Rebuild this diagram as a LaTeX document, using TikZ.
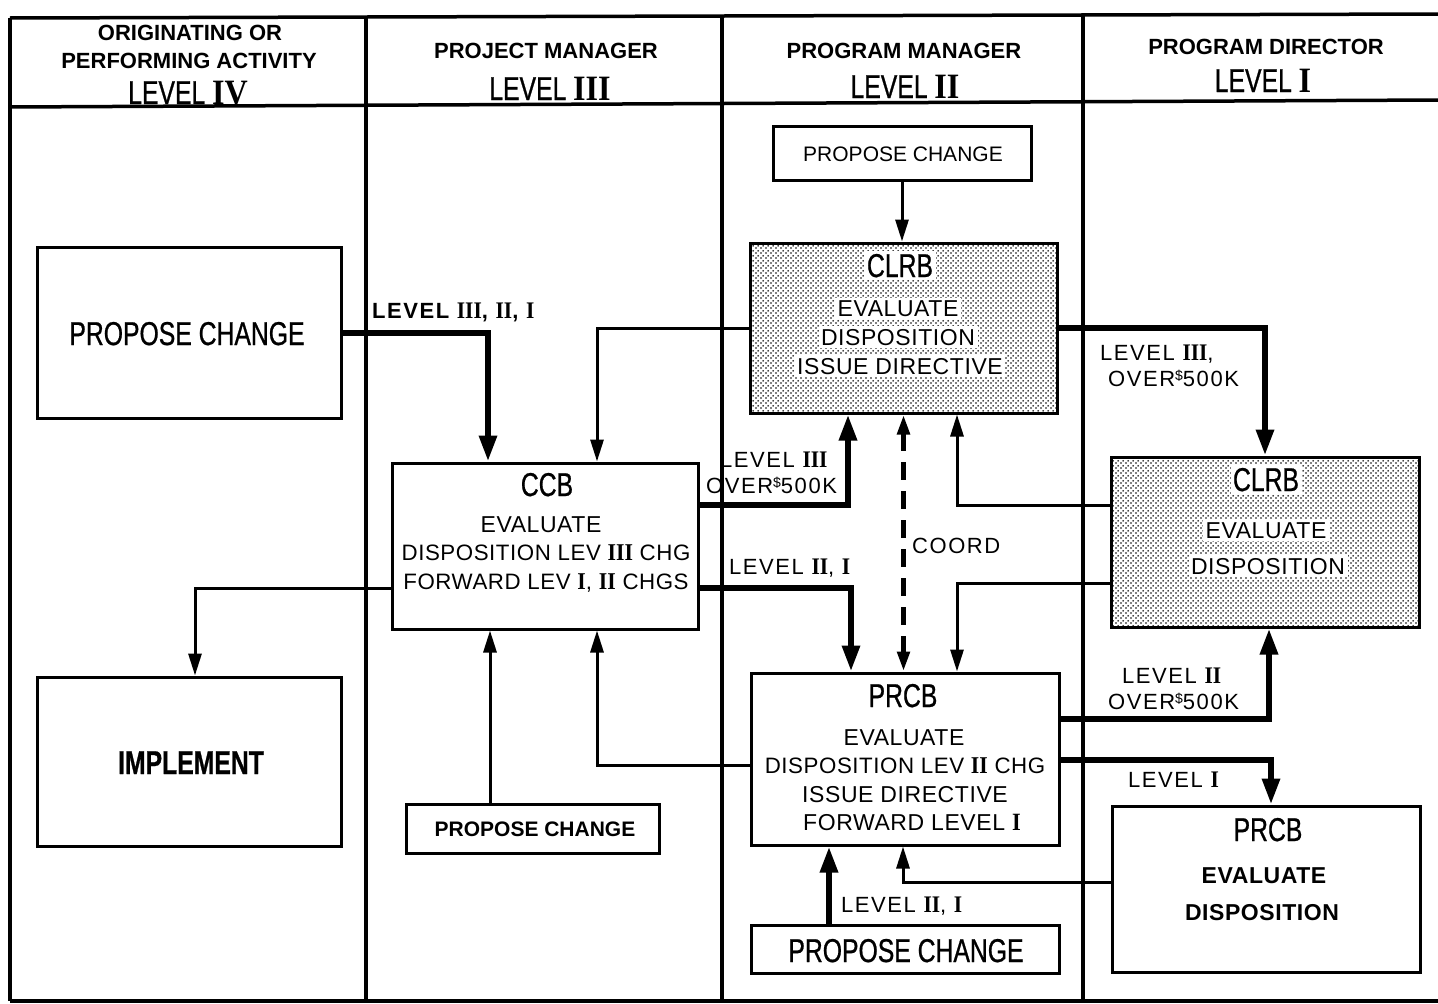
\documentclass[tikz,border=0pt]{standalone}
\usepackage{fontspec}
\setmainfont{Liberation Sans}
\newfontfamily\cfont[FakeStretch=0.75,FakeBold=0.7]{Liberation Sans}
\newfontfamily\rnfont[FakeStretch=0.9]{Liberation Serif}
\newfontfamily\lsfont[LetterSpace=7]{Liberation Sans}
\newfontfamily\bsfont[LetterSpace=2.5]{Liberation Sans}
\usetikzlibrary{arrows.meta,patterns.meta}

\tikzdeclarepattern{
  name=halftone,
  type=uncolored,
  bottom left={(0pt,0pt)},
  top right={(5pt,5pt)},
  tile size={(5pt,5pt)},
  code={
    \pgfpathcircle{\pgfqpoint{1.25pt}{1.25pt}}{1.05pt}
    \pgfpathcircle{\pgfqpoint{3.75pt}{3.75pt}}{1.05pt}
    \pgfusepath{fill}
  }
}

\newcommand\rom[1]{{\rnfont\bfseries\scalebox{1.08}{#1}}}
\newcommand\hfnt{\fontsize{22}{24}\selectfont\bfseries}
\newcommand\bfnt{\cfont\fontsize{33}{36}\selectfont}
\newcommand\tfnt{\bsfont\fontsize{23}{25}\selectfont}
\newcommand\sfnt{\bsfont\fontsize{22.3}{25}\selectfont}
\newcommand\lfnt{\lsfont\fontsize{22}{24}\selectfont}
\newcommand\dol{\raisebox{6pt}{\fontsize{14}{14}\selectfont\$}}

\begin{document}
\begin{tikzpicture}[x=1pt,y=-1pt,
  box/.style={draw, line width=3pt, rectangle, inner sep=0pt},
  shaded/.style={box, pattern=halftone, pattern color=black},
  txt/.style={anchor=base, inner sep=0pt},
  wtxt/.style={anchor=base, inner sep=2.5pt, fill=white},
  lbl/.style={anchor=base west, inner sep=0pt},
  frame/.style={line width=3.5pt},
  thk/.style={line width=6pt, -{Triangle[length=26pt,width=17pt]}},
  thn/.style={line width=3pt, -{Triangle[length=22pt,width=13pt]}},
  coordline/.style={line width=5pt, dash pattern=on 18pt off 11pt,
    {Triangle[length=20pt,width=12pt]}-{Triangle[length=20pt,width=12pt]}}
]
\useasboundingbox (0,0) rectangle (1438,1004);
\fill[white] (0,0) rectangle (1438,1004);

% frame
\draw[frame] (10,18) -- (1438,14);
\draw[frame] (10,107) -- (1438,100);
\draw[frame] (10,1001) -- (1438,1001);
\draw[frame] (10,18) -- (10,1001);
\draw[frame] (366,17) -- (366,1001);
\draw[frame] (722,16) -- (722,1001);
\draw[frame] (1083,15) -- (1083,1001);

% headers
\node[txt] (h1) at (190,40) {\hfnt ORIGINATING OR};
\node[txt] (h2) at (189,68) {\hfnt PERFORMING ACTIVITY};
\node[txt] (h3) at (188,104) {\bfnt LEVEL \rom{IV}};
\node[txt] (h4) at (546,58) {\hfnt PROJECT MANAGER};
\node[txt] (h5) at (550,100) {\bfnt LEVEL \rom{III}};
\node[txt] (h6) at (904,58) {\hfnt PROGRAM MANAGER};
\node[txt] (h7) at (905,98) {\bfnt LEVEL \rom{II}};
\node[txt] (h8) at (1266,54) {\hfnt PROGRAM DIRECTOR};
\node[txt] (h9) at (1263,92) {\bfnt LEVEL \rom{I}};

% boxes
\node[box, minimum width=304pt, minimum height=171pt] (pc4) at (189,332.5) {};
\node[box, minimum width=304pt, minimum height=169pt] (impl) at (189,761.5) {};
\node[box, minimum width=306pt, minimum height=166pt] (ccb) at (545,546) {};
\node[box, minimum width=253pt, minimum height=49pt] (pc3) at (532.5,828.5) {};
\node[box, minimum width=258pt, minimum height=54pt] (pc2a) at (902,153) {};
\node[shaded, minimum width=307pt, minimum height=170pt] (clrb2) at (903.5,328) {};
\node[box, minimum width=308pt, minimum height=172pt] (prcb2) at (905,759) {};
\node[box, minimum width=308pt, minimum height=48pt] (pc2b) at (905,949) {};
\node[shaded, minimum width=308pt, minimum height=170pt] (clrb1) at (1265,542) {};
\node[box, minimum width=308pt, minimum height=166pt] (prcb1) at (1266,889) {};

% box texts
\node[txt] (t1) at (187,345) {\bfnt PROPOSE CHANGE};
\node[txt] (t2) at (191,774) {\bfnt\bfseries IMPLEMENT};
\node[txt] (t3) at (547,496) {\bfnt CCB};
\node[txt] (t4) at (541,532) {\tfnt EVALUATE};
\node[txt] (t5) at (546,560) {\sfnt DISPOSITION LEV \rom{III} CHG};
\node[txt] (t6) at (546,589) {\sfnt FORWARD LEV \rom{I}, \rom{II} CHGS};
\node[txt] (t7) at (535,836) {\fontsize{21}{23}\selectfont\bfseries PROPOSE CHANGE};
\node[txt] (t8) at (903,161) {\fontsize{21}{23}\selectfont PROPOSE CHANGE};
\node[wtxt] (t9) at (900,277) {\bfnt CLRB};
\node[wtxt] (t10) at (898,316) {\tfnt EVALUATE};
\node[wtxt] (t11) at (898,345) {\tfnt DISPOSITION};
\node[wtxt] (t12) at (900,374) {\tfnt ISSUE DIRECTIVE};
\node[txt] (t13) at (903,707) {\bfnt PRCB};
\node[txt] (t14) at (904,745) {\tfnt EVALUATE};
\node[txt] (t15) at (905,773) {\sfnt DISPOSITION LEV \rom{II} CHG};
\node[txt] (t16) at (905,802) {\tfnt ISSUE DIRECTIVE};
\node[txt] (t17) at (912,830) {\tfnt FORWARD LEVEL \rom{I}};
\node[txt] (t18) at (906,962) {\bfnt PROPOSE CHANGE};
\node[wtxt] (t19) at (1266,491) {\bfnt CLRB};
\node[wtxt] (t20) at (1266,538) {\tfnt EVALUATE};
\node[wtxt] (t21) at (1268,574) {\tfnt DISPOSITION};
\node[txt] (t22) at (1268,841) {\bfnt PRCB};
\node[txt] (t23) at (1264,883) {\tfnt\bfseries EVALUATE};
\node[txt] (t24) at (1262,920) {\tfnt\bfseries DISPOSITION};

% connectors
\draw[thk] (pc4.east) -| (488,0 |- ccb.north);
\draw[thn] (clrb2.west) -| (597,0 |- ccb.north);
\draw[thk] (ccb.east |- 0,505) -| (848,0 |- clrb2.south);
\draw[thk] (ccb.east |- 0,588) -| (851,0 |- prcb2.north);
\draw[coordline] (clrb2.south) -- (clrb2.south |- prcb2.north);
\draw[thn] (clrb1.west |- 0,505) -| (957,0 |- clrb2.south);
\draw[thn] (clrb1.west |- 0,583) -| (957,0 |- prcb2.north);
\draw[thk] (clrb2.east) -| (clrb1.north);
\draw[thk] (prcb2.east |- 0,719) -| (1269,0 |- clrb1.south);
\draw[thk] (prcb2.east |- 0,760) -| (1271,0 |- prcb1.north);
\draw[thn] (prcb1.west |- 0,882) -| (903,0 |- prcb2.south);
\draw[thk] (829,0 |- pc2b.north) -- (829,0 |- prcb2.south);
\draw[thn] (prcb2.west |- 0,765) -| (597,0 |- ccb.south);
\draw[thn] (490,0 |- pc3.north) -- (490,0 |- ccb.south);
\draw[thn] (ccb.west |- 0,588) -| (195,0 |- impl.north);
\draw[thn] (pc2a.south) -- (pc2a.south |- clrb2.north);

% labels
\node[lbl] (l1) at (372,318) {\lfnt\bfseries LEVEL \rom{III}, \rom{II}, \rom{I}};
\node[lbl] (l2) at (720,467) {\lfnt LEVEL \rom{III}};
\node[lbl] (l3) at (706,493) {\lfnt OVER\dol500K};
\node[lbl] (l4) at (729,574) {\lfnt LEVEL \rom{II}, \rom{I}};
\node[lbl] (l5) at (912,553) {\lfnt COORD};
\node[lbl] (l6) at (1100,360) {\lfnt LEVEL \rom{III},};
\node[lbl] (l7) at (1108,386) {\lfnt OVER\dol500K};
\node[lbl] (l8) at (1122,683) {\lfnt LEVEL \rom{II}};
\node[lbl] (l9) at (1108,709) {\lfnt OVER\dol500K};
\node[lbl] (l10) at (1128,787) {\lfnt LEVEL \rom{I}};
\node[lbl] (l11) at (841,912) {\lfnt LEVEL \rom{II}, \rom{I}};
\end{tikzpicture}
\end{document}
